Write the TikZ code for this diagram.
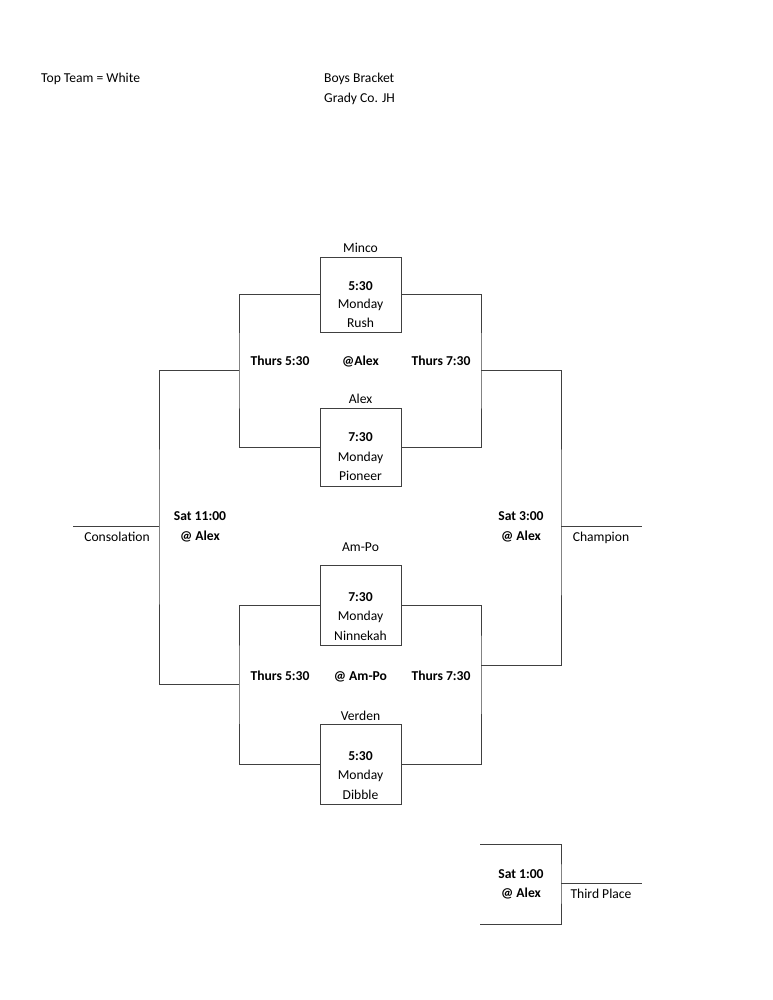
\documentclass[tikz,border=0pt]{standalone}
\usepackage{fontspec}
\setmainfont{Carlito}
\begin{document}
\begin{tikzpicture}[x=1pt,y=-1pt,
  lbl/.style={font=\fontsize{13.6}{16}\selectfont, inner sep=0pt, anchor=base, text=black},
  blbl/.style={lbl, font=\fontsize{13.6}{16}\selectfont\bfseries},
  gamebox/.style={draw=black!75, line width=0.95pt, minimum width=81pt, minimum height=75pt, inner sep=0pt, rectangle},
  wire/.style={draw=black!75, line width=0.95pt}]
\useasboundingbox (0,0) rectangle (772,1000);

% header
\node[lbl, anchor=base west] (topteam) at (41,83) {Top Team = White};
\node[lbl, anchor=base west] (title1) at (324,83) {Boys Bracket};
\node[lbl, anchor=base west] (title2) at (324,102.5) {Grady Co. JH};

% boxes
\node[gamebox, minimum height=75pt] (b1) at (360.5,294.5) {};
\node[gamebox, minimum height=78pt] (b2) at (360.5,447) {};
\node[gamebox, minimum height=80pt] (b3) at (360.5,605) {};
\node[gamebox, minimum height=80pt] (b4) at (360.5,764) {};

% coordinates
\coordinate (qa) at (239,370.5);
\coordinate (qb) at (239,684.5);
\coordinate (qc) at (481,370.5);
\coordinate (qd) at (481,665);
\coordinate (sa) at (159,526.5);
\coordinate (sb) at (561,526.5);
\coordinate (cons) at (73,526.5);
\coordinate (champ) at (642,526.5);
\coordinate (t1) at (480,844);
\coordinate (t3) at (480,924);
\coordinate (tm) at (561,883.5);
\coordinate (tp) at (642,883.5);

% brackets
\draw[wire] (b1.west) -| (qa) |- (b2.west);
\draw[wire] (b1.east) -| (qc) |- (b2.east);
\draw[wire] (b3.west) -| (qb) |- (b4.west);
\draw[wire] (b3.east) -| (qd) |- (b4.east);
\draw[wire] (qa) -| (sa) |- (qb);
\draw[wire] (qc) -| (sb) |- (qd);
\draw[wire] (sa) -- (cons);
\draw[wire] (sb) -- (champ);
\draw[wire] (t1) -| (tm) |- (t3);
\draw[wire] (tm) -- (tp);

% top bracket texts
\node[lbl] (minco) at (360.5,252.5) {Minco};
\node[blbl] (g1t) at (360.5,290.5) {5:30};
\node[lbl] (g1d) at (360.5,308.5) {Monday};
\node[lbl] (g1h) at (360.5,327.5) {Rush};
\node[blbl] (th1) at (280,365.5) {Thurs 5:30};
\node[blbl] (at1) at (360.5,365.5) {@Alex};
\node[blbl] (th2) at (441,365.5) {Thurs 7:30};
\node[lbl] (alex) at (360.5,403.5) {Alex};
\node[blbl] (g2t) at (360.5,441.5) {7:30};
\node[lbl] (g2d) at (360.5,461.5) {Monday};
\node[lbl] (g2h) at (360.5,480.5) {Pioneer};

% middle texts
\node[blbl] (sat1) at (200,520.5) {Sat 11:00};
\node[blbl] (sat1a) at (200,540.5) {@ Alex};
\node[lbl] (consl) at (117,541.5) {Consolation};
\node[blbl] (sat2) at (521,520.5) {Sat 3:00};
\node[blbl] (sat2a) at (521,540.5) {@ Alex};
\node[lbl] (champl) at (601,541.5) {Champion};

% bottom bracket texts
\node[lbl] (ampo) at (360.5,551.5) {Am-Po};
\node[blbl] (g3t) at (360.5,601) {7:30};
\node[lbl] (g3d) at (360.5,620.5) {Monday};
\node[lbl] (g3h) at (360.5,640.5) {Ninnekah};
\node[blbl] (th3) at (280,680.5) {Thurs 5:30};
\node[blbl] (at2) at (360.5,680.5) {@ Am-Po};
\node[blbl] (th4) at (441,680.5) {Thurs 7:30};
\node[lbl] (verden) at (360.5,720) {Verden};
\node[blbl] (g4t) at (360.5,760.5) {5:30};
\node[lbl] (g4d) at (360.5,779.5) {Monday};
\node[lbl] (g4h) at (360.5,799.5) {Dibble};

% third place
\node[blbl] (sat3) at (521,878.5) {Sat 1:00};
\node[blbl] (sat3a) at (521,897.5) {@ Alex};
\node[lbl] (third) at (601,898.5) {Third Place};
\end{tikzpicture}
\end{document}
